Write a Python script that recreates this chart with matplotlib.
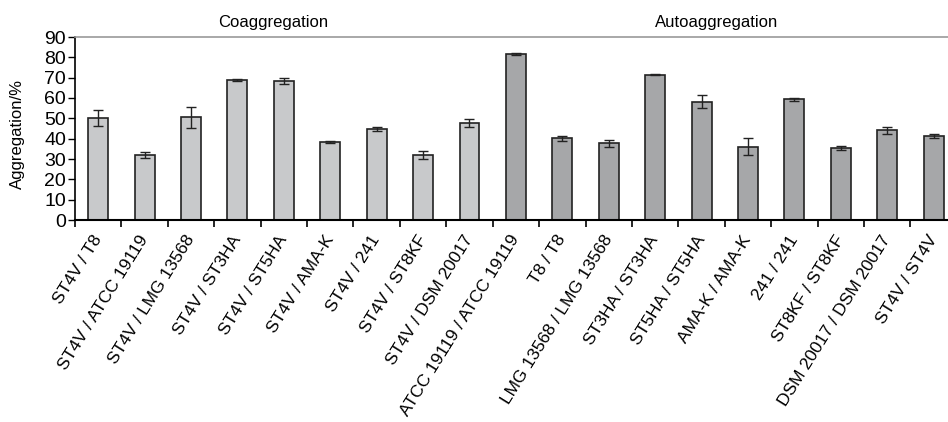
import numpy as np
import matplotlib
matplotlib.use("Agg")
from matplotlib import pyplot as plt

plt.rcParams['font.family'] = ['Liberation Sans', 'DejaVu Sans']

# coaggregation (ST4V paired with each strain)
co_labels = ["ST4V / T8", "ST4V / ATCC 19119", "ST4V / LMG 13568", "ST4V / ST3HA",
             "ST4V / ST5HA", "ST4V / AMA-K", "ST4V / 241", "ST4V / ST8KF",
             "ST4V / DSM 20017"]
co_values = [50.0, 32.0, 50.5, 68.9, 68.5, 38.4, 44.8, 32.0, 47.7]
co_err = [4.0, 1.5, 5.2, 0.5, 1.5, 0.3, 1.1, 2.1, 2.2]

# autoaggregation
auto_labels = ["ATCC 19119 / ATCC 19119", "T8 / T8", "LMG 13568 / LMG 13568",
               "ST3HA / ST3HA", "ST5HA / ST5HA", "AMA-K / AMA-K", "241 / 241",
               "ST8KF / ST8KF", "DSM 20017 / DSM 20017", "ST4V / ST4V"]
auto_values = [81.5, 40.2, 37.7, 71.5, 58.2, 36.1, 59.4, 35.6, 44.1, 41.3]
auto_err = [0.5, 1.2, 1.8, 0.3, 3.3, 4.0, 0.8, 1.0, 1.8, 1.2]

labels = co_labels + auto_labels
values = co_values + auto_values
errs = co_err + auto_err
colors = ['#c8c9cb'] * len(co_values) + ['#a6a7a9'] * len(auto_values)
x = np.arange(len(values))

fig = plt.figure(figsize=(9.48, 4.22), dpi=100)
ax = fig.add_axes([75/948, 1-220/422, 1-75/948, (220-37)/422])

ax.bar(x, values, width=0.43, color=colors, edgecolor='#222222', linewidth=1.2,
       yerr=errs, error_kw=dict(ecolor='#222222', elinewidth=1.0, capsize=3.5, capthick=1.0))

ax.set_xlim(-0.5, 18.31)
ax.set_ylim(0, 90)
ax.set_yticks(range(0, 91, 10))
ax.tick_params(axis='y', direction='out', length=5, width=1, labelsize=14, pad=1.5)

ax.set_xticks(x)
ax.set_xticklabels(labels, rotation=58, ha='right', va='center',
                   rotation_mode='anchor', fontsize=12.5)
ax.tick_params(axis='x', which='major', length=0, pad=12)
ax.set_xticks(np.arange(-0.5, 18.5, 1), minor=True)
ax.tick_params(axis='x', which='minor', direction='out', length=5, width=1.2)

ax.spines['right'].set_visible(False)
ax.spines['top'].set_color('#999999')
ax.spines['top'].set_linewidth(1.2)
ax.spines['left'].set_linewidth(1.2)
ax.spines['bottom'].set_linewidth(1.5)

ax.set_ylabel("Aggregation/%", fontsize=12)
ax.yaxis.set_label_coords(-0.057, 0.47)

ax.text(3.78, 93.5, "Coaggregation", ha='center', va='bottom', fontsize=12)
ax.text(13.32, 93.5, "Autoaggregation", ha='center', va='bottom', fontsize=12)

fig.savefig("out.png", dpi=100)
